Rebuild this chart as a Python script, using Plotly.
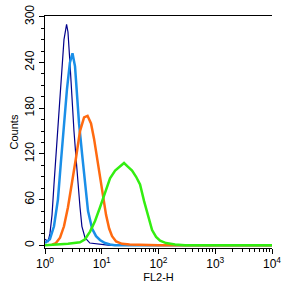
import plotly.graph_objects as go

# Fluorescence intensity (FL2-H) positions and counts
navy_x = [1.0, 1.13, 1.22, 1.33, 1.44, 1.56, 1.69, 1.84, 2.0, 2.16, 2.4, 2.54, 2.75, 2.99, 3.24, 3.52, 3.8, 4.14, 4.47, 5.07, 6.17, 9.3, 14.0, 10000.0]
navy_y = [8, 5, 15, 40, 80, 120, 160, 200, 240, 270, 290, 280, 240, 190, 150, 115, 80, 50, 25, 10, 3, 1, 0, 0]

blue_x = [1.0, 1.22, 1.44, 1.69, 1.91, 2.16, 2.44, 2.75, 3.05, 3.38, 3.66, 3.98, 4.5, 5.07, 5.73, 6.75, 7.94, 9.3, 11.4, 14.0, 17.0, 10000.0]
blue_y = [3, 8, 25, 60, 110, 160, 205, 240, 252, 235, 200, 160, 120, 80, 45, 22, 12, 7, 3, 1, 0, 0]

orange_x = [1.33, 1.56, 1.84, 2.16, 2.54, 2.99, 3.52, 4.14, 4.88, 5.62, 6.47, 7.31, 8.26, 9.33, 10.5, 11.9, 13.5, 15.2, 17.9, 22.8, 31.0, 100.0, 10000.0]
orange_y = [1, 3, 10, 25, 50, 80, 115, 150, 168, 170, 160, 140, 115, 85, 60, 40, 22, 12, 5, 2, 1, 0, 0]

green_x = [1.0, 1.84, 2.54, 4.14, 5.07, 6.22, 7.62, 9.33, 11.4, 14.0, 17.2, 21.0, 24.7, 29.1, 34.2, 40.3, 47.3, 55.7, 65.6, 77.1, 90.7, 106.7, 136.0, 196.0, 294.0, 10000.0]
green_y = [0, 1, 2, 4, 8, 18, 32, 50, 68, 88, 98, 104, 108, 103, 98, 90, 80, 58, 38, 20, 11, 6, 3, 1, 0, 0]

x_tickvals = [1, 10, 100, 1000, 10000]
x_ticktext = ["10<sup>0</sup>", "10<sup>1</sup>", "10<sup>2</sup>", "10<sup>3</sup>", "10<sup>4</sup>"]
x_minor = [m * 10 ** k for k in range(4) for m in range(2, 10)]
y_tickvals = [0, 60, 120, 180, 240, 300]

fig = go.Figure()
fig.add_trace(go.Scatter(x=navy_x, y=navy_y, mode="lines", line=dict(color="#00008B", width=1.2)))
fig.add_trace(go.Scatter(x=blue_x, y=blue_y, mode="lines", line=dict(color="#1A8FE8", width=2.5)))
fig.add_trace(go.Scatter(x=orange_x, y=orange_y, mode="lines", line=dict(color="#FF6A10", width=2.5)))
fig.add_trace(go.Scatter(x=green_x, y=green_y, mode="lines", line=dict(color="#33EE11", width=2.5)))

font = "Liberation Sans, Arial, sans-serif"
fig.update_layout(
    width=302, height=288,
    margin=dict(l=45, r=30, t=16, b=40, autoexpand=False),
    paper_bgcolor="white", plot_bgcolor="white",
    showlegend=False,
    font=dict(family=font, size=12, color="black"),
    xaxis=dict(
        type="log", range=[0, 4], automargin=False,
        tickvals=x_tickvals, ticktext=x_ticktext,
        ticks="outside", ticklen=5, tickwidth=1, tickcolor="black",
        minor=dict(tickvals=x_minor, ticks="outside", ticklen=3, tickcolor="black", showgrid=False),
        showline=True, linecolor="black", linewidth=1, mirror=True,
        showgrid=False, zeroline=False,
        tickfont=dict(size=12),
        title=dict(text="FL2-H", font=dict(size=11), standoff=2),
    ),
    yaxis=dict(
        range=[-3.5, 301], automargin=False,
        tickvals=y_tickvals, tickangle=-90,
        ticks="outside", ticklen=5, tickwidth=1, tickcolor="black",
        minor=dict(dtick=15, tick0=0, ticks="outside", ticklen=3, tickcolor="black", showgrid=False),
        showline=True, linecolor="black", linewidth=1,
        showgrid=False, zeroline=False,
        tickfont=dict(size=12),
        title=dict(text="Counts", font=dict(size=11), standoff=2),
    ),
)

fig.write_html("out.html")
